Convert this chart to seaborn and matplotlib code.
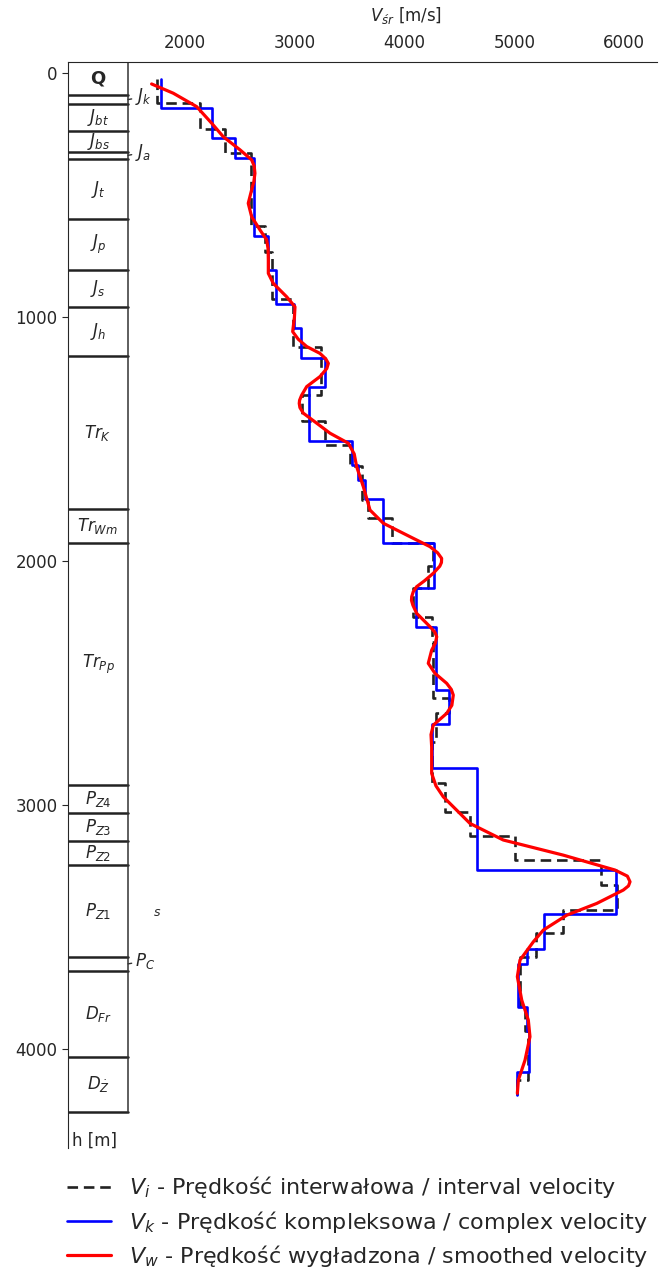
import numpy as np
import seaborn as sns
import matplotlib.pyplot as plt

# stratigraphic column: layer boundaries [m] and names
strat_bounds = [-46, 89, 127, 236, 321, 352, 597, 806, 958, 1159, 1787, 1924,
                2917, 3033, 3145, 3246, 3620, 3679, 4030, 4257]
strat_names = [r'$\mathbf{Q}$', '$J_k$', '$J_{bt}$', '$J_{bs}$', '$J_a$', '$J_t$', '$J_p$',
               '$J_s$', '$J_h$', '$Tr_K$', '$Tr_{Wm}$', '$Tr_{Pp}$', '$P_{Z4}$', '$P_{Z3}$',
               '$P_{Z2}$', '$P_{Z1}$', '$P_C$', '$D_{Fr}$', r'$D_{\dot{Z}}$']
strat_outside = ['$J_k$', '$J_a$', '$P_C$']

# interval velocity (layer tops + last bottom, velocities)
vi_depth = [25, 123, 228, 325, 624, 734, 926, 1120, 1318, 1424, 1524, 1610, 1750, 1823,
            1926, 2020, 2110, 2227, 2330, 2560, 2621, 2740, 2910, 3026, 3126, 3224, 3327,
            3429, 3525, 3621, 3830, 3925, 4126, 4188]
vi_vel = [1739, 2134, 2360, 2595, 2725, 2795, 2985, 3235, 3064, 3276, 3500, 3608, 3668,
          3881, 4260, 4215, 4079, 4246, 4262, 4400, 4290, 4250, 4370, 4595, 5005, 5790,
          5933, 5446, 5195, 5051, 5100, 5127, 5027]

# complex velocity
vk_depth = [25, 143, 266, 346, 667, 806, 947, 1045, 1166, 1287, 1506, 1605, 1667, 1746,
            1926, 2108, 2268, 2527, 2667, 2848, 3265, 3445, 3589, 3648, 3825, 3924, 4092, 4188]
vk_vel = [1776, 2241, 2453, 2626, 2757, 2827, 2991, 3052, 3276, 3125, 3517, 3577, 3638,
          3805, 4267, 4103, 4285, 4407, 4246, 4656, 5923, 5273, 5112, 5036, 5112, 5133, 5027]

# smoothed velocity
vw_depth = [44, 82, 137, 205, 260, 314, 355, 380, 410, 445, 478, 533, 588, 642, 683, 720,
            765, 820, 861, 916, 957, 1000, 1059, 1090, 1120, 1148, 1170, 1189, 1210, 1243,
            1284, 1320, 1340, 1353, 1370, 1393, 1434, 1475, 1516, 1560, 1612, 1694, 1790,
            1844, 1899, 1940, 1965, 1988, 2005, 2020, 2049, 2080, 2104, 2125, 2145, 2160,
            2180, 2213, 2268, 2290, 2309, 2335, 2364, 2418, 2459, 2500, 2525, 2548, 2590,
            2623, 2671, 2710, 2760, 2869, 2920, 2965, 3074, 3142, 3204, 3265, 3290, 3313,
            3330, 3347, 3402, 3450, 3511, 3559, 3634, 3702, 3798, 3880, 3948, 4044, 4126,
            4180]
vw_vel = [1693, 1891, 2104, 2241, 2346, 2499, 2605, 2628, 2635, 2625, 2605, 2574, 2605,
          2681, 2742, 2755, 2757, 2757, 2802, 2924, 3000, 2995, 2979, 3030, 3107, 3228,
          3280, 3304, 3290, 3228, 3107, 3060, 3042, 3039, 3045, 3076, 3198, 3319, 3486,
          3540, 3562, 3623, 3684, 3805, 4048, 4231, 4300, 4337, 4335, 4320, 4261, 4180,
          4109, 4078, 4064, 4062, 4075, 4109, 4231, 4275, 4292, 4280, 4246, 4215, 4276,
          4383, 4425, 4443, 4430, 4383, 4261, 4240, 4246, 4246, 4285, 4352, 4595, 4899,
          5446, 5917, 6030, 6054, 6040, 5993, 5750, 5477, 5264, 5173, 5051, 5027, 5067,
          5127, 5142, 5097, 5036, 5027]

x_ticks = [2000, 3000, 4000, 5000, 6000]
y_ticks = [0, 1000, 2000, 3000, 4000]

legend_labels = ['$V_i$ - Prędkość interwałowa / interval velocity',
                 '$V_k$ - Prędkość kompleksowa / complex velocity',
                 '$V_w$ - Prędkość wygładzona / smoothed velocity']


def steps(depth, vel):
    y = np.repeat(depth, 2)[1:-1]
    x = np.repeat(vel, 2)
    return x, y


sns.set_style('ticks')
plt.rcParams['font.family'] = ['DejaVu Sans']
plt.rcParams['mathtext.fontset'] = 'dejavusans'

fig = plt.figure(figsize=(6.67, 12.71), dpi=100)
ax = fig.add_axes([68/667, 1-1148/1271, 589/667, 1086/1271])

x, y = steps(vi_depth, vi_vel)
sns.lineplot(x=x, y=y, sort=False, estimator=None, ax=ax, color='#222222', lw=1.9,
             linestyle=(0, (4.0, 2.2)), label=legend_labels[0])
x, y = steps(vk_depth, vk_vel)
sns.lineplot(x=x, y=y, sort=False, estimator=None, ax=ax, color='#0000ff', lw=1.9,
             label=legend_labels[1])
sns.lineplot(x=vw_vel, y=vw_depth, sort=False, estimator=None, ax=ax, color='#ff0000',
             lw=2.3, label=legend_labels[2])

ax.set_xlim(931, 6300)
ax.set_ylim(4404, -46)
ax.set_xticks(x_ticks)
ax.set_yticks(y_ticks)
ax.xaxis.tick_top()
ax.xaxis.set_label_position('top')
ax.tick_params(labelsize=12, length=4)
ax.set_xlabel('$V_{śr}$ [m/s]', fontsize=12)
ax.xaxis.set_label_coords(0.574, 1.038)
ax.set_ylabel('')
sns.despine(ax=ax, top=False, right=True, bottom=True, left=False)

# stratigraphic column
col_r = 60/589
tr = ax.get_yaxis_transform()
for b in strat_bounds[1:]:
    ax.axhline(b, xmin=0, xmax=col_r, color='#222222', lw=1.8)
ax.plot([col_r, col_r], [strat_bounds[0], strat_bounds[-1]], transform=tr,
        color='#333333', lw=1.1)
for i, name in enumerate(strat_names):
    c = (strat_bounds[i] + strat_bounds[i+1]) / 2
    if name in strat_outside:
        ax.annotate(name, xy=(col_r, c), xycoords=tr, xytext=(5, 2),
                    textcoords='offset points', ha='left', va='center', fontsize=12,
                    color='#262626',
                    arrowprops=dict(arrowstyle='-', color='#333333', lw=1.0,
                                    shrinkA=0, shrinkB=0))
    else:
        ax.text(col_r/2, c, name, transform=tr, ha='center', va='center',
                fontsize=13 if i == 0 else 12, color='#262626')

ax.text(0.151, 3437, '$s$', transform=tr, ha='center', va='center', fontsize=9,
        color='#262626')
ax.text(0.006, -0.002, 'h [m]', transform=ax.transAxes, ha='left', va='bottom',
        fontsize=12, color='#262626')

handles, labels = ax.get_legend_handles_labels()
ax.get_legend().remove()
fig.legend(handles, labels, loc='upper left', bbox_to_anchor=(0.1, 0.076),
           frameon=False, fontsize=16, labelspacing=0.37, borderpad=0,
           borderaxespad=0, handlelength=2.0, handletextpad=0.8)

fig.savefig('out.png', dpi=100)
